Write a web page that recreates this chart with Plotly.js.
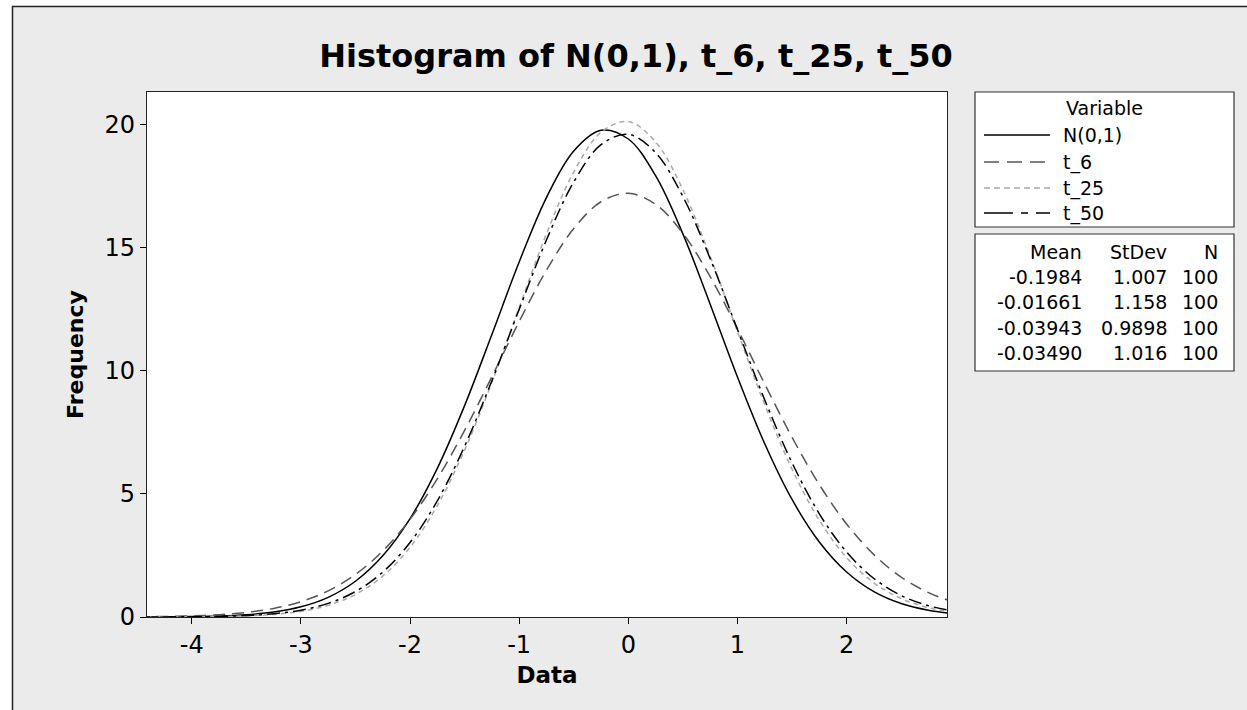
<!DOCTYPE html>
<html>
<head>
<meta charset="utf-8">
<script src="https://cdn.plot.ly/plotly-3.0.1.min.js"></script>
<style>html,body{margin:0;padding:0;background:#fff;}#chart{width:1247px;height:710px;}</style>
</head>
<body>
<div id="chart"></div>
<script>
// ---- data ----
const xData = [-4.5,-4.25,-4.0,-3.75,-3.5,-3.25,-3.0,-2.75,-2.5,-2.25,-2.0,-1.75,-1.5,-1.25,-1.0,-0.75,-0.5,-0.25,0,0.25,0.5,0.75,1.0,1.25,1.5,1.75,2.0,2.25,2.5,2.75,3.0];
const seriesNames = ['N(0,1)','t_6','t_25','t_50'];
const yNorm = [0.0022,0.0060,0.0159,0.0394,0.0917,0.2008,0.4132,0.7992,1.4538,2.4863,3.998,6.044,8.592,11.483,14.431,17.050,18.941,19.784,19.429,17.940,15.575,12.714,9.758,7.041,4.777,3.048,1.828,1.031,0.547,0.273,0.128];
const yT6 = [0.0096,0.0216,0.0464,0.0953,0.1868,0.3493,0.6236,1.0623,1.7276,2.6817,3.973,5.618,7.583,9.768,12.011,14.095,15.788,16.879,17.223,16.775,15.594,13.836,11.717,9.470,7.306,5.380,3.781,2.536,1.624,0.992,0.579];
const yT25 = [0.0008,0.0024,0.0067,0.0179,0.0447,0.1046,0.2299,0.4741,0.917,1.664,2.834,4.527,6.784,9.539,12.584,15.575,18.085,19.702,20.137,19.310,17.372,14.663,11.611,8.626,6.013,3.932,2.413,1.389,0.750,0.380,0.181];
const yT50 = [0.0013,0.0036,0.0097,0.0245,0.0585,0.1314,0.2777,0.5524,1.034,1.823,3.025,4.723,6.941,9.603,12.504,15.325,17.680,19.198,19.621,18.876,17.092,14.568,11.687,8.824,6.272,4.196,2.642,1.566,0.874,0.459,0.227];
const statMean = ['-0.1984','-0.01661','-0.03943','-0.03490'];
const statSd = ['1.007','1.158','0.9898','1.016'];
const statN = ['100','100','100','100'];
const xTickVals = [-4,-3,-2,-1,0,1,2];
const xTickText = ['-4','-3','-2','-1','0','1','2'];
const yTickVals = [0,5,10,15,20];
const yTickText = ['0','5','10','15','20'];

// ---- styles ----
const lineColors = ['#000000','#555555','#a9a9a9','#000000'];
const plotDash = ['solid','12px,7px','5px,4px','13px,5px,3px,5px'];
const legendDash = ['solid','15px,8px','6px,4px','29px,8px,7px,8px'];
const FONT = 'DejaVu Sans, Verdana, sans-serif';

// plot area in pixels
const L = 147, R = 947, T = 92, B = 617, W = 1247, H = 710;
const px = v => (v - L) / (R - L);
const py = v => (B - v) / (B - T);

const ySeries = [yNorm, yT6, yT25, yT50];
const traces = ySeries.map((ys, i) => ({
  type: 'scatter', mode: 'lines', x: xData, y: ys, name: seriesNames[i],
  line: {color: lineColors[i], width: 1.5, dash: plotDash[i], shape: 'spline', smoothing: 1},
  showlegend: false, hoverinfo: 'x+y+name'
}));

const shapes = [];
const annotations = [];
// outer white margin + frame border
shapes.push({type:'rect', xref:'paper', yref:'paper', x0:px(-10), x1:px(12), y0:py(H+10), y1:py(-10), fillcolor:'#ffffff', line:{width:0}});
shapes.push({type:'rect', xref:'paper', yref:'paper', x0:px(-10), x1:px(W+10), y0:py(6), y1:py(-10), fillcolor:'#ffffff', line:{width:0}});
shapes.push({type:'line', xref:'paper', yref:'paper', x0:px(12.5), x1:px(12.5), y0:py(6), y1:py(H+10), line:{color:'#222', width:1.5}});
shapes.push({type:'line', xref:'paper', yref:'paper', x0:px(12), x1:px(W+10), y0:py(6.5), y1:py(6.5), line:{color:'#222', width:1.5}});

// legend box 1
const LF = 19;
shapes.push({type:'rect', xref:'paper', yref:'paper', x0:px(975), x1:px(1234), y0:py(227), y1:py(92), fillcolor:'#ffffff', line:{color:'#333', width:1.2}});
annotations.push({xref:'paper', yref:'paper', x:px(1104), y:py(108), text:'Variable', showarrow:false, xanchor:'center', yanchor:'middle', font:{family:FONT, size:LF, color:'#000'}});
const legY = [135, 162, 188, 213];
seriesNames.forEach((n, i) => {
  shapes.push({type:'line', xref:'paper', yref:'paper', x0:px(984), x1:px(1050), y0:py(legY[i]), y1:py(legY[i]), line:{color:lineColors[i], width:1.5, dash:legendDash[i]}});
  annotations.push({xref:'paper', yref:'paper', x:px(1061), y:py(legY[i]), text:n, showarrow:false, xanchor:'left', yanchor:'middle', font:{family:FONT, size:LF, color:'#000'}});
});

// legend box 2 (statistics table)
shapes.push({type:'rect', xref:'paper', yref:'paper', x0:px(975), x1:px(1234), y0:py(371), y1:py(234), fillcolor:'#ffffff', line:{color:'#333', width:1.2}});
const colX = [1084, 1169, 1220];
const headers = ['Mean','StDev','N'];
const rowY = [252, 277, 302, 328, 353];
headers.forEach((h, j) => annotations.push({xref:'paper', yref:'paper', x:px(colX[j]), y:py(rowY[0]), text:h, showarrow:false, xanchor:'right', yanchor:'middle', font:{family:FONT, size:LF, color:'#000'}}));
for (let i = 0; i < statMean.length; i++) {
  [statMean[i], statSd[i], statN[i]].forEach((t, j) => annotations.push({xref:'paper', yref:'paper', x:px(colX[j]), y:py(rowY[i+1]), text:t, showarrow:false, xanchor:'right', yanchor:'middle', font:{family:FONT, size:LF, color:'#000'}}));
}

const layout = {
  width: W, height: H,
  paper_bgcolor: '#ebebeb', plot_bgcolor: '#ffffff',
  margin: {l: L, r: W - R, t: T, b: H - B, pad: 0},
  showlegend: false,
  title: {text: '<b>Histogram of N(0,1), t_6, t_25, t_50</b>', font: {family: FONT, size: 32, color: '#000'}, x: 636 / W, xanchor: 'center', xref: 'container', y: 1 - 56 / H, yanchor: 'middle', yref: 'container'},
  xaxis: {
    range: [-4.41, 2.92], tickmode: 'array', tickvals: xTickVals, ticktext: xTickText,
    ticks: 'outside', ticklen: 6, tickwidth: 1, tickcolor: '#000',
    showline: true, linecolor: '#222', linewidth: 1.2, mirror: true,
    showgrid: false, zeroline: false,
    tickfont: {family: FONT, size: 24, color: '#000'},
    title: {text: '<b>Data</b>', font: {family: FONT, size: 23, color: '#000'}, standoff: 8}
  },
  yaxis: {
    range: [0, 21.34], tickmode: 'array', tickvals: yTickVals, ticktext: yTickText,
    ticks: 'outside', ticklen: 6, tickwidth: 1, tickcolor: '#000',
    showline: true, linecolor: '#222', linewidth: 1.2, mirror: true,
    showgrid: false, zeroline: false,
    tickfont: {family: FONT, size: 24, color: '#000'},
    title: {text: '<b>Frequency</b>', font: {family: FONT, size: 22, color: '#000'}, standoff: 14}
  },
  shapes: shapes,
  annotations: annotations
};

Plotly.newPlot('chart', traces, layout, {displayModeBar: false, staticPlot: true});
</script>
</body>
</html>
